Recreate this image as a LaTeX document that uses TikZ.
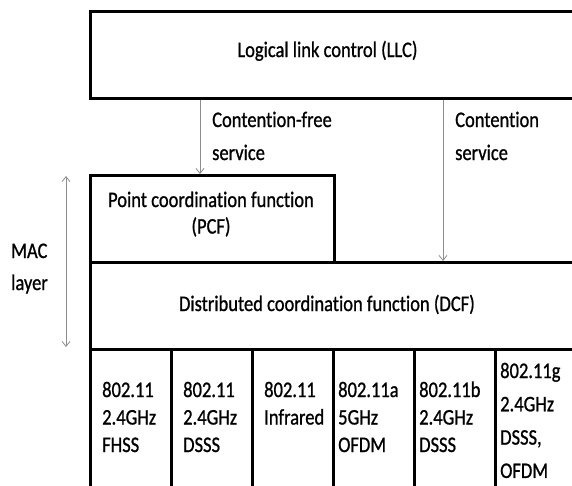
\documentclass[tikz,border=0pt]{standalone}
\usepackage{fontspec}
\usepackage{graphicx}
\setmainfont{Carlito}[Ligatures=NoCommon, FakeBold=1.0]
\usetikzlibrary{arrows.meta}
% lines of text set in a column, first baseline on the node's base, drawn slightly tall
\newcommand{\stackedtext}[3][27.5]{%
  \scalebox{1}[1.2]{\fontsize{18.5}{\dimexpr#1pt*10/12\relax}\selectfont
    \renewcommand{\arraystretch}{1}%
    \begin{tabular}[t]{@{}#2@{}}#3\end{tabular}}}
\begin{document}
\begin{tikzpicture}[x=1pt, y=-1pt,
  layerbox/.style={draw=black, line width=3pt, rectangle, inner sep=0pt, anchor=north west},
  txt/.style={inner sep=0pt, text=black},
  flow/.style={draw=gray!90, line width=0.8pt, -{Straight Barb[length=5pt,width=8pt]}},
  span/.style={draw=gray!90, line width=0.8pt, {Straight Barb[length=5pt,width=8pt]}-{Straight Barb[length=5pt,width=8pt]}}
]
\useasboundingbox (0,0) rectangle (572,485);

% protocol layers
\node[layerbox, minimum width=486pt, minimum height=87pt] (llc) at (89,10) {};
\node[layerbox, minimum width=244pt, minimum height=87pt] (pcf) at (89,174) {};
\node[layerbox, minimum width=486pt, minimum height=87pt] (dcf) at (89,261) {};
\foreach \i in {0,...,5}
  \node[layerbox, minimum width=81pt, minimum height=140pt] (phy\i) at (89+81*\i,348) {};

% layer names
\node[txt, anchor=base] (llctxt) at (327.5,57) {\stackedtext{c}{Logical link control (LLC)}};
\node[txt, anchor=base] (pcftxt) at (211,207)
  {\stackedtext[26.5]{c}{Point coordination function\\(PCF)}};
\node[txt, anchor=base] (dcftxt) at (327,311) {\stackedtext{c}{Distributed coordination function (DCF)}};

% physical layers
\node[txt, anchor=base west] (t0) at ([xshift=13pt]phy0.north west |- 0,397) {\stackedtext{l}{802.11\\2.4GHz\\FHSS}};
\node[txt, anchor=base west] (t1) at ([xshift=13pt]phy1.north west |- 0,397) {\stackedtext{l}{802.11\\2.4GHz\\DSSS}};
\node[txt, anchor=base west] (t2) at ([xshift=13pt]phy2.north west |- 0,397) {\stackedtext{l}{802.11\\Infrared}};
\node[txt, anchor=base west] (t3) at ([xshift=6pt]phy3.north west |- 0,397) {\stackedtext{l}{802.11a\\5GHz\\OFDM}};
\node[txt, anchor=base west] (t4) at ([xshift=6pt]phy4.north west |- 0,397) {\stackedtext{l}{802.11b\\2.4GHz\\DSSS}};
\node[txt, anchor=base west] (t5) at ([xshift=6pt]phy5.north west |- 0,378) {\stackedtext[33.3]{l}{802.11g\\2.4GHz\\DSSS,\\OFDM}};

% service access points
\coordinate (cfx) at (200,0);
\coordinate (cx) at (443,0);
\draw[flow] (llc.south -| cfx) -- (pcf.north -| cfx);
\draw[flow] (llc.south -| cx) -- (dcf.north -| cx);
\node[txt, anchor=base west] (cflbl) at (212,127) {\stackedtext[33]{l}{Contention-free\\service}};
\node[txt, anchor=base west] (clbl) at (455,127) {\stackedtext[33]{l}{Contention\\service}};

% extent of the MAC layer
\coordinate (mactop) at (66,176);
\coordinate (macbot) at (66,347);
\draw[span] (mactop) -- (macbot);
\node[txt, anchor=base west] (maclbl) at (11,258) {\stackedtext[32]{l}{MAC\\layer}};
\end{tikzpicture}
\end{document}
